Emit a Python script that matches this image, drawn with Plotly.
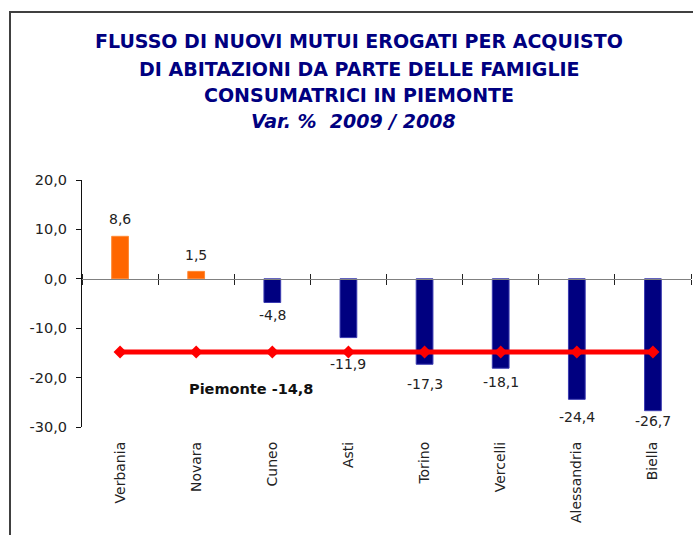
import plotly.graph_objects as go

categories = ["Verbania", "Novara", "Cuneo", "Asti", "Torino", "Vercelli", "Alessandria", "Biella"]
values = [8.6, 1.5, -4.8, -11.9, -17.3, -18.1, -24.4, -26.7]
piemonte = -14.8
y_ticks = [20, 10, 0, -10, -20, -30]
title_lines = [
    "FLUSSO DI NUOVI MUTUI EROGATI PER ACQUISTO",
    "DI ABITAZIONI DA PARTE DELLE FAMIGLIE",
    "CONSUMATRICI IN PIEMONTE",
]
subtitle = "Var. %\u00a0 2009 / 2008"

# styles
label_shift = [17, 16, -12, -26, -20, -14, -18, -10]  # px offset of value labels
POS_COLOR = "#FF6600"
NEG_COLOR = "#000080"
FONT = "DejaVu Sans"

L, R, T, B = 82, 2, 180, 108
W, H = 693, 535
pw, ph = W - L - R, H - T - B


def px_x(px):
    return (px - L) / pw


def px_y(py):
    return (H - B - py) / ph


def fmt(v):
    return f"{v:.1f}".replace(".", ",")


fig = go.Figure()
fig.add_trace(go.Bar(
    x=categories, y=values, width=0.22,
    marker=dict(color=[POS_COLOR if v > 0 else NEG_COLOR for v in values],
                line=dict(color=["#FF8833" if v > 0 else "#3a3ab0" for v in values], width=1)),
    showlegend=False, hoverinfo="skip",
))
fig.add_trace(go.Scatter(
    x=categories, y=[piemonte] * len(categories), xaxis="x2",
    mode="lines+markers",
    line=dict(color="#FF0000", width=5),
    marker=dict(symbol="diamond", size=10, color="#FF0000"),
    showlegend=False, hoverinfo="skip",
))
fig.add_trace(go.Scatter(
    x=categories, y=[piemonte] * len(categories), xaxis="x3",
    mode="none", showlegend=False, hoverinfo="skip",
))

annotations = []
for c, v, s in zip(categories, values, label_shift):
    annotations.append(dict(
        x=c, y=v, xref="x", yref="y", text=fmt(v), showarrow=False,
        yshift=s, yanchor="middle", font=dict(family=FONT, size=14, color="#222222"),
    ))
annotations.append(dict(
    x=px_x(187), y=-22.3, xref="paper", yref="y", text=f"<b>Piemonte {fmt(piemonte)}</b>",
    showarrow=False, font=dict(family=FONT, size=14.5, color="#111111"),
))
for line, py in zip(title_lines, [40.5, 69, 95]):
    annotations.append(dict(
        x=px_x(359), y=px_y(py), xref="paper", yref="paper", text=f"<b>{line}</b>",
        showarrow=False, yanchor="middle", font=dict(family=FONT, size=19, color="#000080"),
    ))
annotations.append(dict(
    x=px_x(353), y=px_y(120.5), xref="paper", yref="paper", text=f"<b><i>{subtitle}</i></b>",
    showarrow=False, yanchor="middle", font=dict(family=FONT, size=19, color="#000080"),
))

fig.update_layout(
    width=W, height=H,
    margin=dict(l=L, r=R, t=T, b=B),
    paper_bgcolor="white", plot_bgcolor="white",
    separators=",.",
    bargap=0,
    xaxis=dict(
        type="category", showline=False, ticks="", showgrid=False, zeroline=False,
        tickangle=-90, tickfont=dict(family=FONT, size=14, color="#222222"),
        ticklabelstandoff=11, fixedrange=True,
    ),
    xaxis2=dict(
        type="category", overlaying="x", matches="x", anchor="free", position=0.6,
        showline=True, linecolor="#808080", linewidth=1.5,
        ticks="outside", tickson="boundaries", ticklen=5, tickcolor="#222222",
        showticklabels=False, showgrid=False, zeroline=False,
    ),
    xaxis3=dict(
        type="category", overlaying="x", matches="x", anchor="free", position=0.6,
        showline=False, side="top",
        ticks="outside", tickson="boundaries", ticklen=5, tickcolor="#222222",
        showticklabels=False, showgrid=False, zeroline=False,
    ),
    yaxis=dict(
        range=[-30, 20], tickvals=y_ticks, ticktext=[fmt(v) for v in y_ticks],
        showline=True, linecolor="#111111", linewidth=1,
        ticks="outside", ticklen=5, tickcolor="#111111",
        showgrid=False, zeroline=False,
        tickfont=dict(family=FONT, size=14.5, color="#222222"),
        ticklabelstandoff=6,
    ),
    annotations=annotations,
    shapes=[dict(
        type="rect", xref="paper", yref="paper",
        x0=px_x(10), x1=px_x(720), y0=px_y(560), y1=px_y(12),
        line=dict(color="#404040", width=2), fillcolor="rgba(0,0,0,0)", layer="below",
    )],
)

fig.write_html(
    "out.html",
    config={"displayModeBar": False, "staticPlot": True},
    post_script="document.body.style.margin='0';document.body.style.overflow='hidden';",
)
